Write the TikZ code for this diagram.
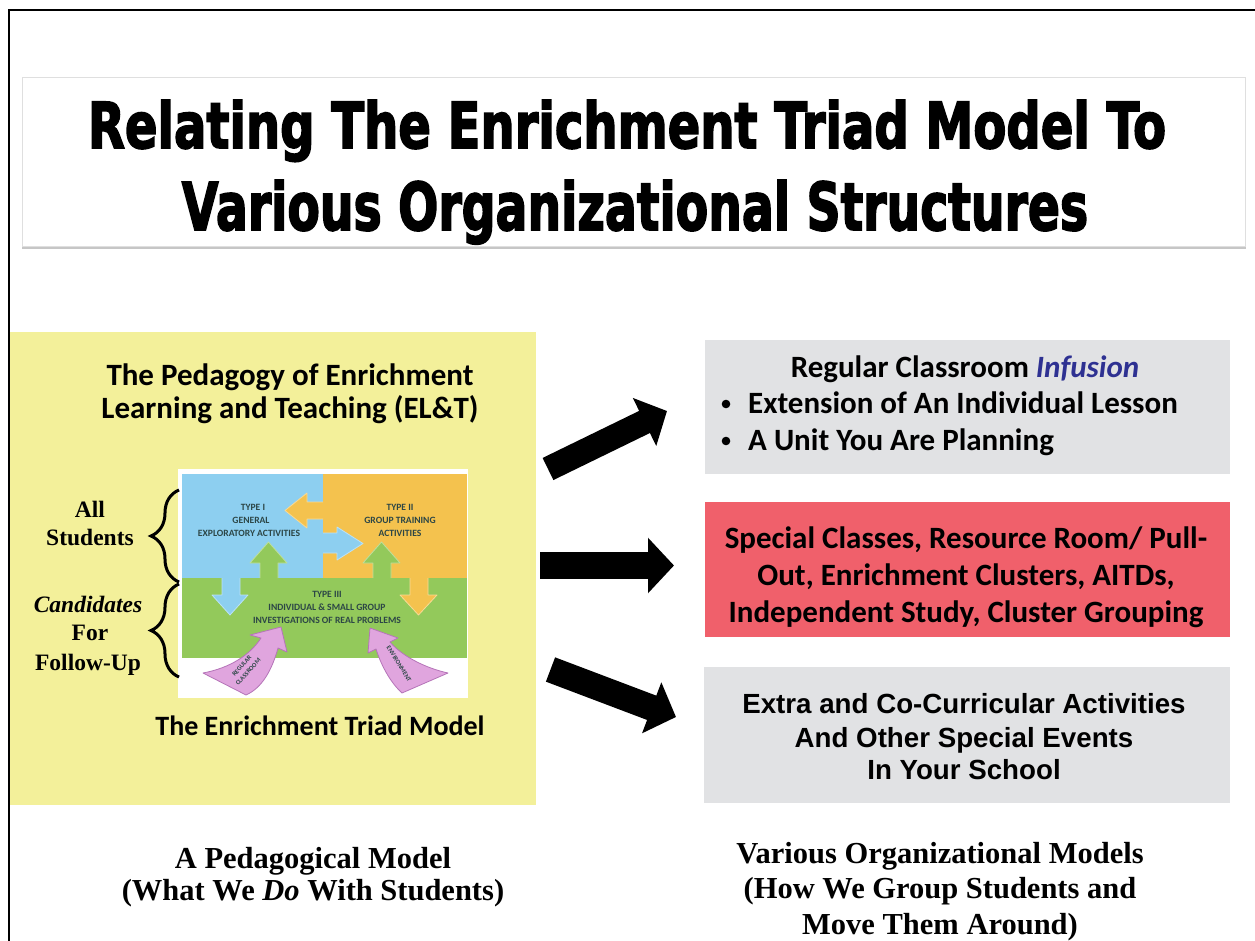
\documentclass[tikz,border=0pt]{standalone}
\usepackage{fontspec}
\usepackage{graphicx}
\setmainfont{Liberation Serif}
\newfontfamily\calib{Carlito}
\newfontfamily\arialf{Liberation Sans}
\newfontfamily\heavyf[FakeBold=3]{DejaVu Sans}
\usetikzlibrary{arrows.meta,decorations.pathreplacing}
\definecolor{ylw}{HTML}{F3F09A}
\definecolor{grybox}{HTML}{E1E2E4}
\definecolor{redbox}{HTML}{F0606B}
\definecolor{infblue}{HTML}{2E3192}
\definecolor{tblue}{HTML}{8DCFF0}
\definecolor{torange}{HTML}{F4C24E}
\definecolor{tgreen}{HTML}{93C95B}
\definecolor{tpink}{HTML}{E0A5DE}
\definecolor{tpinkline}{HTML}{B574B8}
\definecolor{ttext}{HTML}{2C4646}
\tikzset{
  txt/.style={inner sep=0pt, anchor=base},
  cal28/.style={txt, font=\calib\bfseries\fontsize{28}{32}\selectfont},
  cal31/.style={txt, font=\calib\bfseries\fontsize{31}{34}\selectfont},
  ari/.style={txt, font=\arialf\bfseries\fontsize{27.7}{32}\selectfont},
  tms/.style={txt, font=\bfseries\fontsize{23.5}{27}\selectfont},
  tmsb/.style={txt, font=\bfseries\fontsize{30.5}{33}\selectfont},
  tri/.style={inner sep=0pt, text=ttext, font=\calib\bfseries\fontsize{9.6}{10}\selectfont},
  tris/.style={inner sep=0pt, text=ttext, font=\calib\bfseries\fontsize{6.4}{8.5}\selectfont},
  bigarrow/.style={draw=black, line cap=butt},
  inarrow/.style={line width=0.8pt, line join=round},
  pinkarrow/.style={fill=tpink, draw=tpinkline, line width=0.8pt, line join=round},
}
\begin{document}
\begin{tikzpicture}[x=1pt,y=-1pt]
\useasboundingbox (0,0) rectangle (1255,941);
\fill[white] (0,0) rectangle (1255,941);
% outer frame
\draw[line width=1.8pt] (9,941) -- (9,10) -- (1255,10);
% title box
\fill[gray!45] (22,79) rectangle (1246,249);
\filldraw[fill=white, draw=gray!25, line width=0.6pt] (22,77) rectangle (1245,246);
\node[txt] (t1) at (627,148) {\resizebox{1078pt}{48pt}{\heavyf\bfseries Relating The Enrichment Triad Model To}};
\node[txt] (t2) at (635,230) {\resizebox{906pt}{50pt}{\heavyf\bfseries Various Organizational Structures}};
% yellow panel
\fill[ylw] (10,332) rectangle (536,805);
\node[cal31] (p1) at (290,385) {The Pedagogy of Enrichment};
\node[cal31] (p2) at (290,418) {Learning and Teaching (EL\&T)};
% triad picture
\fill[white] (178,469) rectangle (468,698);
\fill[tblue] (182,474) rectangle (323,578);
\fill[torange] (323,474) rectangle (467,578);
\fill[tgreen] (182,578) rectangle (467,658);
% inner arrows
\filldraw[inarrow, fill=torange, draw=torange!60!white] (323,502) -- (307,502) -- (307,493) -- (285,510.5) -- (307,528) -- (307,519) -- (323,519);
\filldraw[inarrow, fill=tblue, draw=tblue!60!white] (323,533) -- (337,533) -- (337,527) -- (363,543.5) -- (337,560) -- (337,553) -- (323,553);
\filldraw[inarrow, fill=tgreen, draw=tgreen!60!white] (260,578) -- (260,563) -- (250,563) -- (268.5,542) -- (287,563) -- (278,563) -- (278,578);
\filldraw[inarrow, fill=tblue, draw=tblue!60!white] (222,578) -- (222,595) -- (212,595) -- (230,615) -- (248,595) -- (240,595) -- (240,578);
\filldraw[inarrow, fill=tgreen, draw=tgreen!60!white] (373,578) -- (373,563) -- (363,563) -- (381.5,542) -- (400,563) -- (391,563) -- (391,578);
\filldraw[inarrow, fill=torange, draw=torange!60!white] (410,578) -- (410,595) -- (400,595) -- (418.5,615) -- (437,595) -- (428,595) -- (428,578);
% triad texts
\node[tri] (ty1a) at (253,507) {TYPE I};
\node[tri] (ty1b) at (251,520) {GENERAL};
\node[tri] (ty1c) at (249,533) {EXPLORATORY ACTIVITIES};
\node[tri] (ty2a) at (400,507) {TYPE II};
\node[tri] (ty2b) at (400,520) {GROUP TRAINING};
\node[tri] (ty2c) at (400,533) {ACTIVITIES};
\node[tri] (ty3a) at (327,594) {TYPE III};
\node[tri] (ty3b) at (327,607) {INDIVIDUAL \& SMALL GROUP};
\node[tri] (ty3c) at (327,620) {INVESTIGATIONS OF REAL PROBLEMS};
% pink arrows
\filldraw[pinkarrow] (203,673) .. controls (230,668) and (250,655) .. (261,638) -- (250,635) -- (281,627) -- (287,652) -- (278,648) .. controls (272,670) and (262,688) .. (246,695) -- cycle;
\filldraw[pinkarrow] (402,693) .. controls (392,684) and (382,668) .. (376,649) -- (368,653) -- (370,628) -- (398,638) -- (390,642) .. controls (402,656) and (425,668) .. (448,673) -- cycle;
\node[tris, rotate=48, align=center] (rc) at (245,669) {REGULAR\\CLASSROOM};
\node[tris, rotate=-58] (env) at (399,664) {ENVIRONMENT};
\node[cal28] (tm) at (320,735) {The Enrichment Triad Model};
% braces
\draw[line width=3pt, decorate, decoration={brace, amplitude=28pt}] (179,582) -- (179,490);
\draw[line width=3pt, decorate, decoration={brace, amplitude=28pt}] (179,677) -- (179,584);
\node[tms] (b1) at (90,517) {All};
\node[tms] (b2) at (90,545) {Students};
\node[tms] (b3) at (88,612) {\itshape Candidates};
\node[tms] (b4) at (90,640) {For};
\node[tms] (b5) at (88,670) {Follow-Up};
% right boxes
\fill[grybox] (705,340) rectangle (1230,474);
\node[cal31] (r1a) at (965,377) {Regular Classroom \textcolor{infblue}{\itshape Infusion}};
\node[cal31, anchor=base west] (r1b) at (748,413) {Extension of An Individual Lesson};
\node[cal31, anchor=base west] (r1c) at (748,450) {A Unit You Are Planning};
\fill (726,404) circle (4.3pt);
\fill (726,441) circle (4.3pt);
\fill[redbox] (705,502) rectangle (1230,637);
\node[cal31] (r2a) at (966,548) {Special Classes, Resource Room/ Pull-};
\node[cal31] (r2b) at (966,585) {Out, Enrichment Clusters, AITDs,};
\node[cal31] (r2c) at (966,622) {Independent Study, Cluster Grouping};
\fill[grybox] (704,667) rectangle (1230,803);
\node[ari] (r3a) at (964,713) {Extra and Co-Curricular Activities};
\node[ari] (r3b) at (964,747) {And Other Special Events};
\node[ari] (r3c) at (964,779) {In Your School};
% black arrows
\coordinate (a1s) at (548,469);
\coordinate (a1e) at (667,411);
\coordinate (a2s) at (540,565.5);
\coordinate (a2e) at (674,565.5);
\coordinate (a3s) at (550.5,669.5);
\coordinate (a3e) at (676,717);
\draw[bigarrow, line width=24.6pt, -{Triangle[length=25pt,width=52pt]}] (a1s) -- (a1e);
\draw[bigarrow, line width=27pt, -{Triangle[length=26pt,width=54pt]}] (a2s) -- (a2e);
\draw[bigarrow, line width=26pt, -{Triangle[length=26pt,width=53pt]}] (a3s) -- (a3e);
% bottom captions
\node[tmsb] (c1) at (313,868) {A Pedagogical Model};
\node[tmsb] (c2) at (313,900) {(What We \textit{Do} With Students)};
\node[tmsb] (c3) at (940,863) {Various Organizational Models};
\node[tmsb] (c4) at (940,898) {(How We Group Students and};
\node[tmsb] (c5) at (940,934) {Move Them Around)};
\end{tikzpicture}
\end{document}
